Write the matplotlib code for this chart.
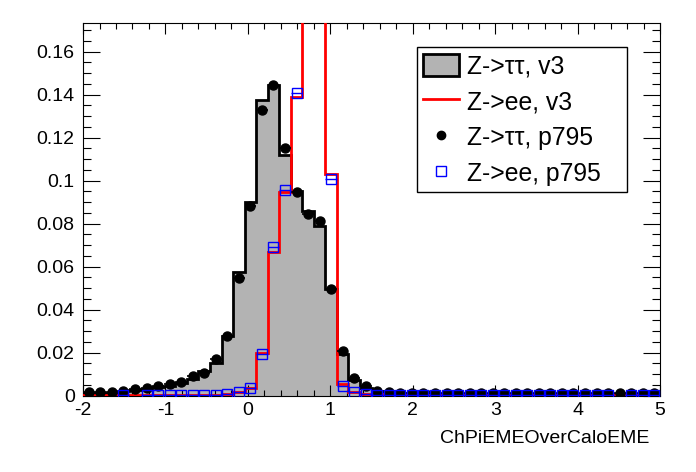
import numpy as np
import matplotlib.pyplot as plt
from matplotlib.patches import Patch
from matplotlib.lines import Line2D
from matplotlib.ticker import MultipleLocator, FormatStrFormatter

plt.rcParams['font.family'] = ['Liberation Sans', 'DejaVu Sans']
plt.rcParams['axes.unicode_minus'] = False

# binning: 50 bins from -2 to 5
x_min, x_max, n_bins = -2.0, 5.0, 50

# Z->tautau, v3 (filled histogram)
tautau_v3 = [
    0.0012, 0.0013, 0.0014, 0.0020, 0.0025, 0.0031, 0.0038, 0.0046, 0.0058, 0.0077,
    0.0116, 0.0152, 0.0278, 0.0575, 0.0902, 0.1374, 0.1443, 0.1118, 0.0953, 0.0860,
    0.0790, 0.0498, 0.0192, 0.0074, 0.0036, 0.0020, 0.0014, 0.0012, 0.0010, 0.0009,
    0.0009, 0.0009, 0.0008, 0.0009, 0.0008, 0.0008, 0.0008, 0.0008, 0.0008, 0.0008,
    0.0008, 0.0008, 0.0008, 0.0008, 0.0008, 0.0008, 0.0008, 0.0008, 0.0008, 0.0008,
]

# Z->ee, v3 (red line), bins 19 and 20 are off scale
ee_v3 = [
    0.0001, 0.0001, 0.0001, 0.0001, 0.0001, 0.0001, 0.0001, 0.0001, 0.0001, 0.0002,
    0.0002, 0.0003, 0.0008, 0.0015, 0.0036, 0.0198, 0.0670, 0.0945, 0.1390, 0.3000,
    0.2600, 0.1033, 0.0054, 0.0017, 0.0008, 0.0005, 0.0003, 0.0003, 0.0003, 0.0003,
    0.0003, 0.0003, 0.0003, 0.0003, 0.0003, 0.0003, 0.0003, 0.0003, 0.0003, 0.0003,
    0.0003, 0.0003, 0.0003, 0.0003, 0.0003, 0.0003, 0.0003, 0.0003, 0.0003, 0.0003,
]

# Z->tautau, p795 (black points)
tautau_p795 = [
    0.0015, 0.0017, 0.0015, 0.0023, 0.0029, 0.0037, 0.0044, 0.0056, 0.0065, 0.0091,
    0.0103, 0.0171, 0.0275, 0.0546, 0.0883, 0.1330, 0.1443, 0.1150, 0.0948, 0.0845,
    0.0810, 0.0498, 0.0209, 0.0082, 0.0046, 0.0022, 0.0016, 0.0013, 0.0011, 0.0011,
    0.0010, 0.0010, 0.0010, 0.0010, 0.0010, 0.0010, 0.0010, 0.0010, 0.0010, 0.0010,
    0.0010, 0.0010, 0.0010, 0.0010, 0.0010, 0.0010, 0.0010, 0.0010, 0.0010, 0.0010,
]

# Z->ee, p795 (blue open squares), nan = empty bin
nan = np.nan
ee_p795 = [
    nan, nan, nan, 0.0001, nan, 0.0001, 0.0001, 0.0001, 0.0001, 0.0001,
    0.0001, 0.0001, 0.0008, 0.0018, 0.0036, 0.0195, 0.0693, 0.0956, 0.1410, 0.3000,
    0.2600, 0.1007, 0.0046, 0.0017, 0.0005, 0.0003, 0.0003, 0.0003, 0.0003, 0.0003,
    0.0003, 0.0003, 0.0003, 0.0003, 0.0003, 0.0003, 0.0003, 0.0003, 0.0003, 0.0003,
    0.0003, 0.0003, 0.0003, 0.0003, 0.0003, 0.0003, nan, 0.0003, 0.0003, 0.0003,
]

labels = ['Z->\u03c4\u03c4, v3', 'Z->ee, v3', 'Z->\u03c4\u03c4, p795', 'Z->ee, p795']

edges = np.linspace(x_min, x_max, n_bins + 1)
centers = 0.5 * (edges[:-1] + edges[1:])
half_w = 0.5 * (edges[1] - edges[0])

fig = plt.figure(figsize=(6.96, 4.72), dpi=100)
ax = fig.add_axes([0.1193, 0.162, 0.829, 0.7886])

gray = '#b3b3b3'
ax.stairs(tautau_v3, edges, fill=True, color=gray, zorder=1)
ax.stairs(tautau_v3, edges, color='black', lw=2, zorder=2)
ax.stairs(ee_v3, edges, color='red', lw=2, zorder=3)

ax.errorbar(centers, tautau_p795, xerr=half_w, fmt='o', color='black',
            ms=6.5, elinewidth=1.2, capsize=0, zorder=4)
ax.errorbar(centers, ee_p795, xerr=half_w, fmt='s', color='blue', mfc='none',
            mec='blue', mew=1, ms=6.5, elinewidth=1, capsize=0, zorder=5)

ax.set_xlim(x_min, x_max)
ax.set_ylim(0, 0.1732)

ax.xaxis.set_major_locator(MultipleLocator(1))
ax.xaxis.set_minor_locator(MultipleLocator(0.2))
ax.yaxis.set_major_locator(MultipleLocator(0.02))
ax.yaxis.set_minor_locator(MultipleLocator(0.005))
ax.yaxis.set_major_formatter(FormatStrFormatter('%g'))
ax.xaxis.set_major_formatter(FormatStrFormatter('%g'))

ax.tick_params(axis='both', which='both', direction='in', top=True, right=True,
               width=0.8, labelsize=14)
ax.tick_params(axis='x', which='major', length=8, pad=5)
ax.tick_params(axis='x', which='minor', length=4)
ax.tick_params(axis='y', which='major', length=12, pad=6)
ax.tick_params(axis='y', which='minor', length=6)
for sp in ax.spines.values():
    sp.set_linewidth(0.8)

ax.set_xlabel('ChPiEMEOverCaloEME', fontsize=14)
ax.xaxis.set_label_coords(0.981, -0.127)
ax.xaxis.label.set_ha('right')
ax.xaxis.label.set_va('baseline')

handles = [
    Patch(facecolor=gray, edgecolor='black', lw=2),
    Line2D([], [], color='red', lw=2),
    Line2D([], [], ls='none', marker='o', color='black', ms=6),
    Line2D([], [], ls='none', marker='s', mfc='none', mec='blue', mew=1, ms=6.5),
]
leg = ax.legend(handles, labels, loc='upper left',
                bbox_to_anchor=(0.579, 0.5575, 0.3633, 0.378), mode='expand',
                borderaxespad=0, fontsize=17.8, frameon=True, fancybox=False,
                edgecolor='black', framealpha=1, handlelength=1.45,
                handleheight=1.03, handletextpad=0.3, borderpad=0.25,
                labelspacing=0.45)
leg.get_frame().set_linewidth(1)

fig.savefig('out.png', dpi=100)
